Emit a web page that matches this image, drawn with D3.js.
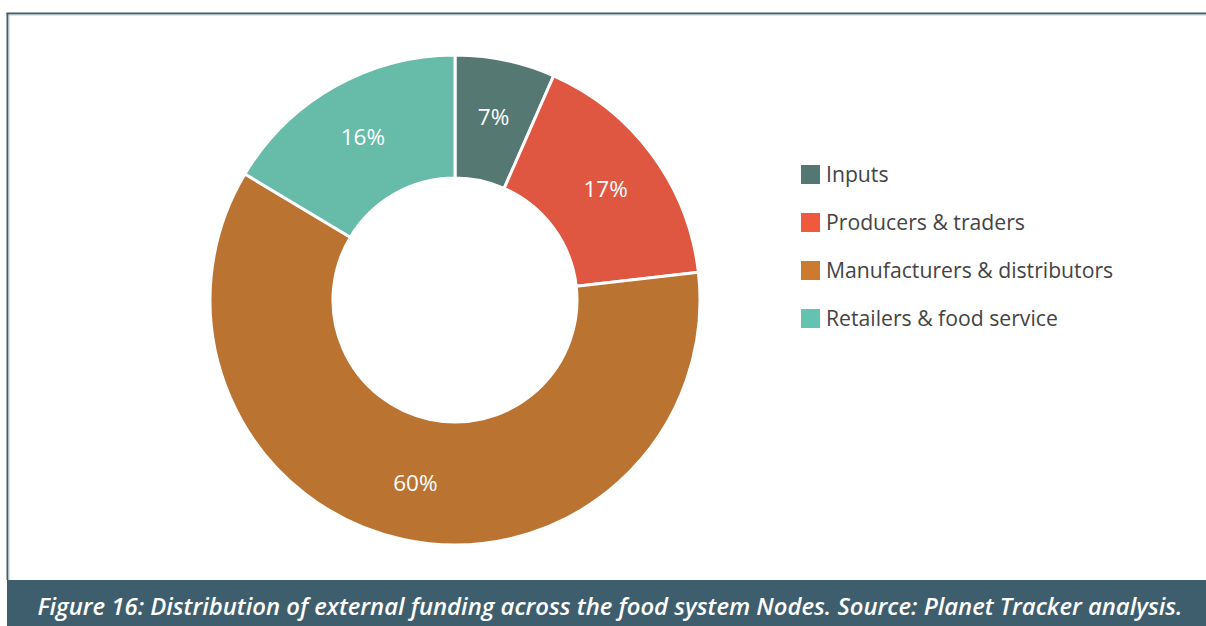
<!DOCTYPE html>
<html><head><meta charset="utf-8">
<script src="https://cdn.jsdelivr.net/npm/d3@7"></script>
<style>
html,body{margin:0;padding:0;background:#fff;}
svg{display:block;}
</style></head>
<body>
<svg id="chart" width="1206" height="626"></svg>
<script>
const categories = ["Inputs", "Producers & traders", "Manufacturers & distributors", "Retailers & food service"];
const values = [6.6, 16.6, 60.4, 16.4];
const colors = ["#557972", "#df5641", "#bb7331", "#67bba9"];
const legendColors = ["#537873", "#ef5a3f", "#cc7a30", "#64c2b0"];
const caption = "Figure 16: Distribution of external funding across the food system Nodes. Source: Planet Tracker analysis.";

const svg = d3.select("#chart");
const W = 1206, H = 626;

// frame
svg.append("line").attr("x1", 7.5).attr("x2", 7.5).attr("y1", 13).attr("y2", 580).attr("stroke", "#475d65").attr("stroke-width", 2);
svg.append("line").attr("x1", 6.5).attr("x2", W).attr("y1", 13.5).attr("y2", 13.5).attr("stroke", "#475d65").attr("stroke-width", 2);
svg.append("line").attr("x1", 9).attr("x2", W).attr("y1", 15).attr("y2", 15).attr("stroke", "#b8ccd6").attr("stroke-width", 1);
svg.append("line").attr("x1", 9).attr("x2", 9).attr("y1", 15).attr("y2", 580).attr("stroke", "#b8ccd6").attr("stroke-width", 1);

// donut
const cx = 455, cy = 300, rOuter = 245, rInner = 122;
const pie = d3.pie().sort(null).value(d => d)(values);
const arc = d3.arc().innerRadius(rInner).outerRadius(rOuter);
const labelArc = d3.arc().innerRadius(187).outerRadius(187);
const g = svg.append("g").attr("transform", `translate(${cx},${cy})`);
g.selectAll("path.slice").data(pie).join("path")
  .attr("class", "slice")
  .attr("d", arc)
  .attr("fill", (d, i) => colors[i])
  .attr("stroke", "#fff").attr("stroke-width", 3).attr("stroke-linejoin", "miter");

const total = d3.sum(values);
g.selectAll("text.lbl").data(pie).join("text")
  .attr("class", "lbl")
  .attr("transform", d => `translate(${labelArc.centroid(d)})`)
  .attr("text-anchor", "middle").attr("dy", "0.36em")
  .attr("fill", "#fff").attr("font-family", "'Open Sans', sans-serif").attr("font-size", 22.5)
  .text(d => Math.round(d.value / total * 100) + "%");

// legend
const leg = svg.append("g").attr("transform", "translate(801,165)");
const rows = leg.selectAll("g").data(categories).join("g").attr("transform", (d, i) => `translate(0,${i * 48})`);
rows.append("rect").attr("width", 19).attr("height", 19).attr("fill", (d, i) => legendColors[i]);
rows.append("text").attr("x", 25).attr("y", 9.5).attr("dy", "0.36em")
  .attr("fill", "#444").attr("font-family", "'Open Sans', sans-serif").attr("font-size", 21.2)
  .text(d => d);

// caption bar
svg.append("rect").attr("x", 7).attr("y", 580).attr("width", W - 7).attr("height", H - 580).attr("fill", "#3e5e6d");
svg.append("text").attr("x", 610).attr("y", 615).attr("text-anchor", "middle")
  .attr("fill", "#fff").attr("font-family", "'Open Sans', sans-serif").attr("font-size", 24)
  .attr("font-style", "italic").attr("font-weight", 600)
  .attr("textLength", 1145).attr("lengthAdjust", "spacingAndGlyphs")
  .text(caption);
</script>
</body></html>
